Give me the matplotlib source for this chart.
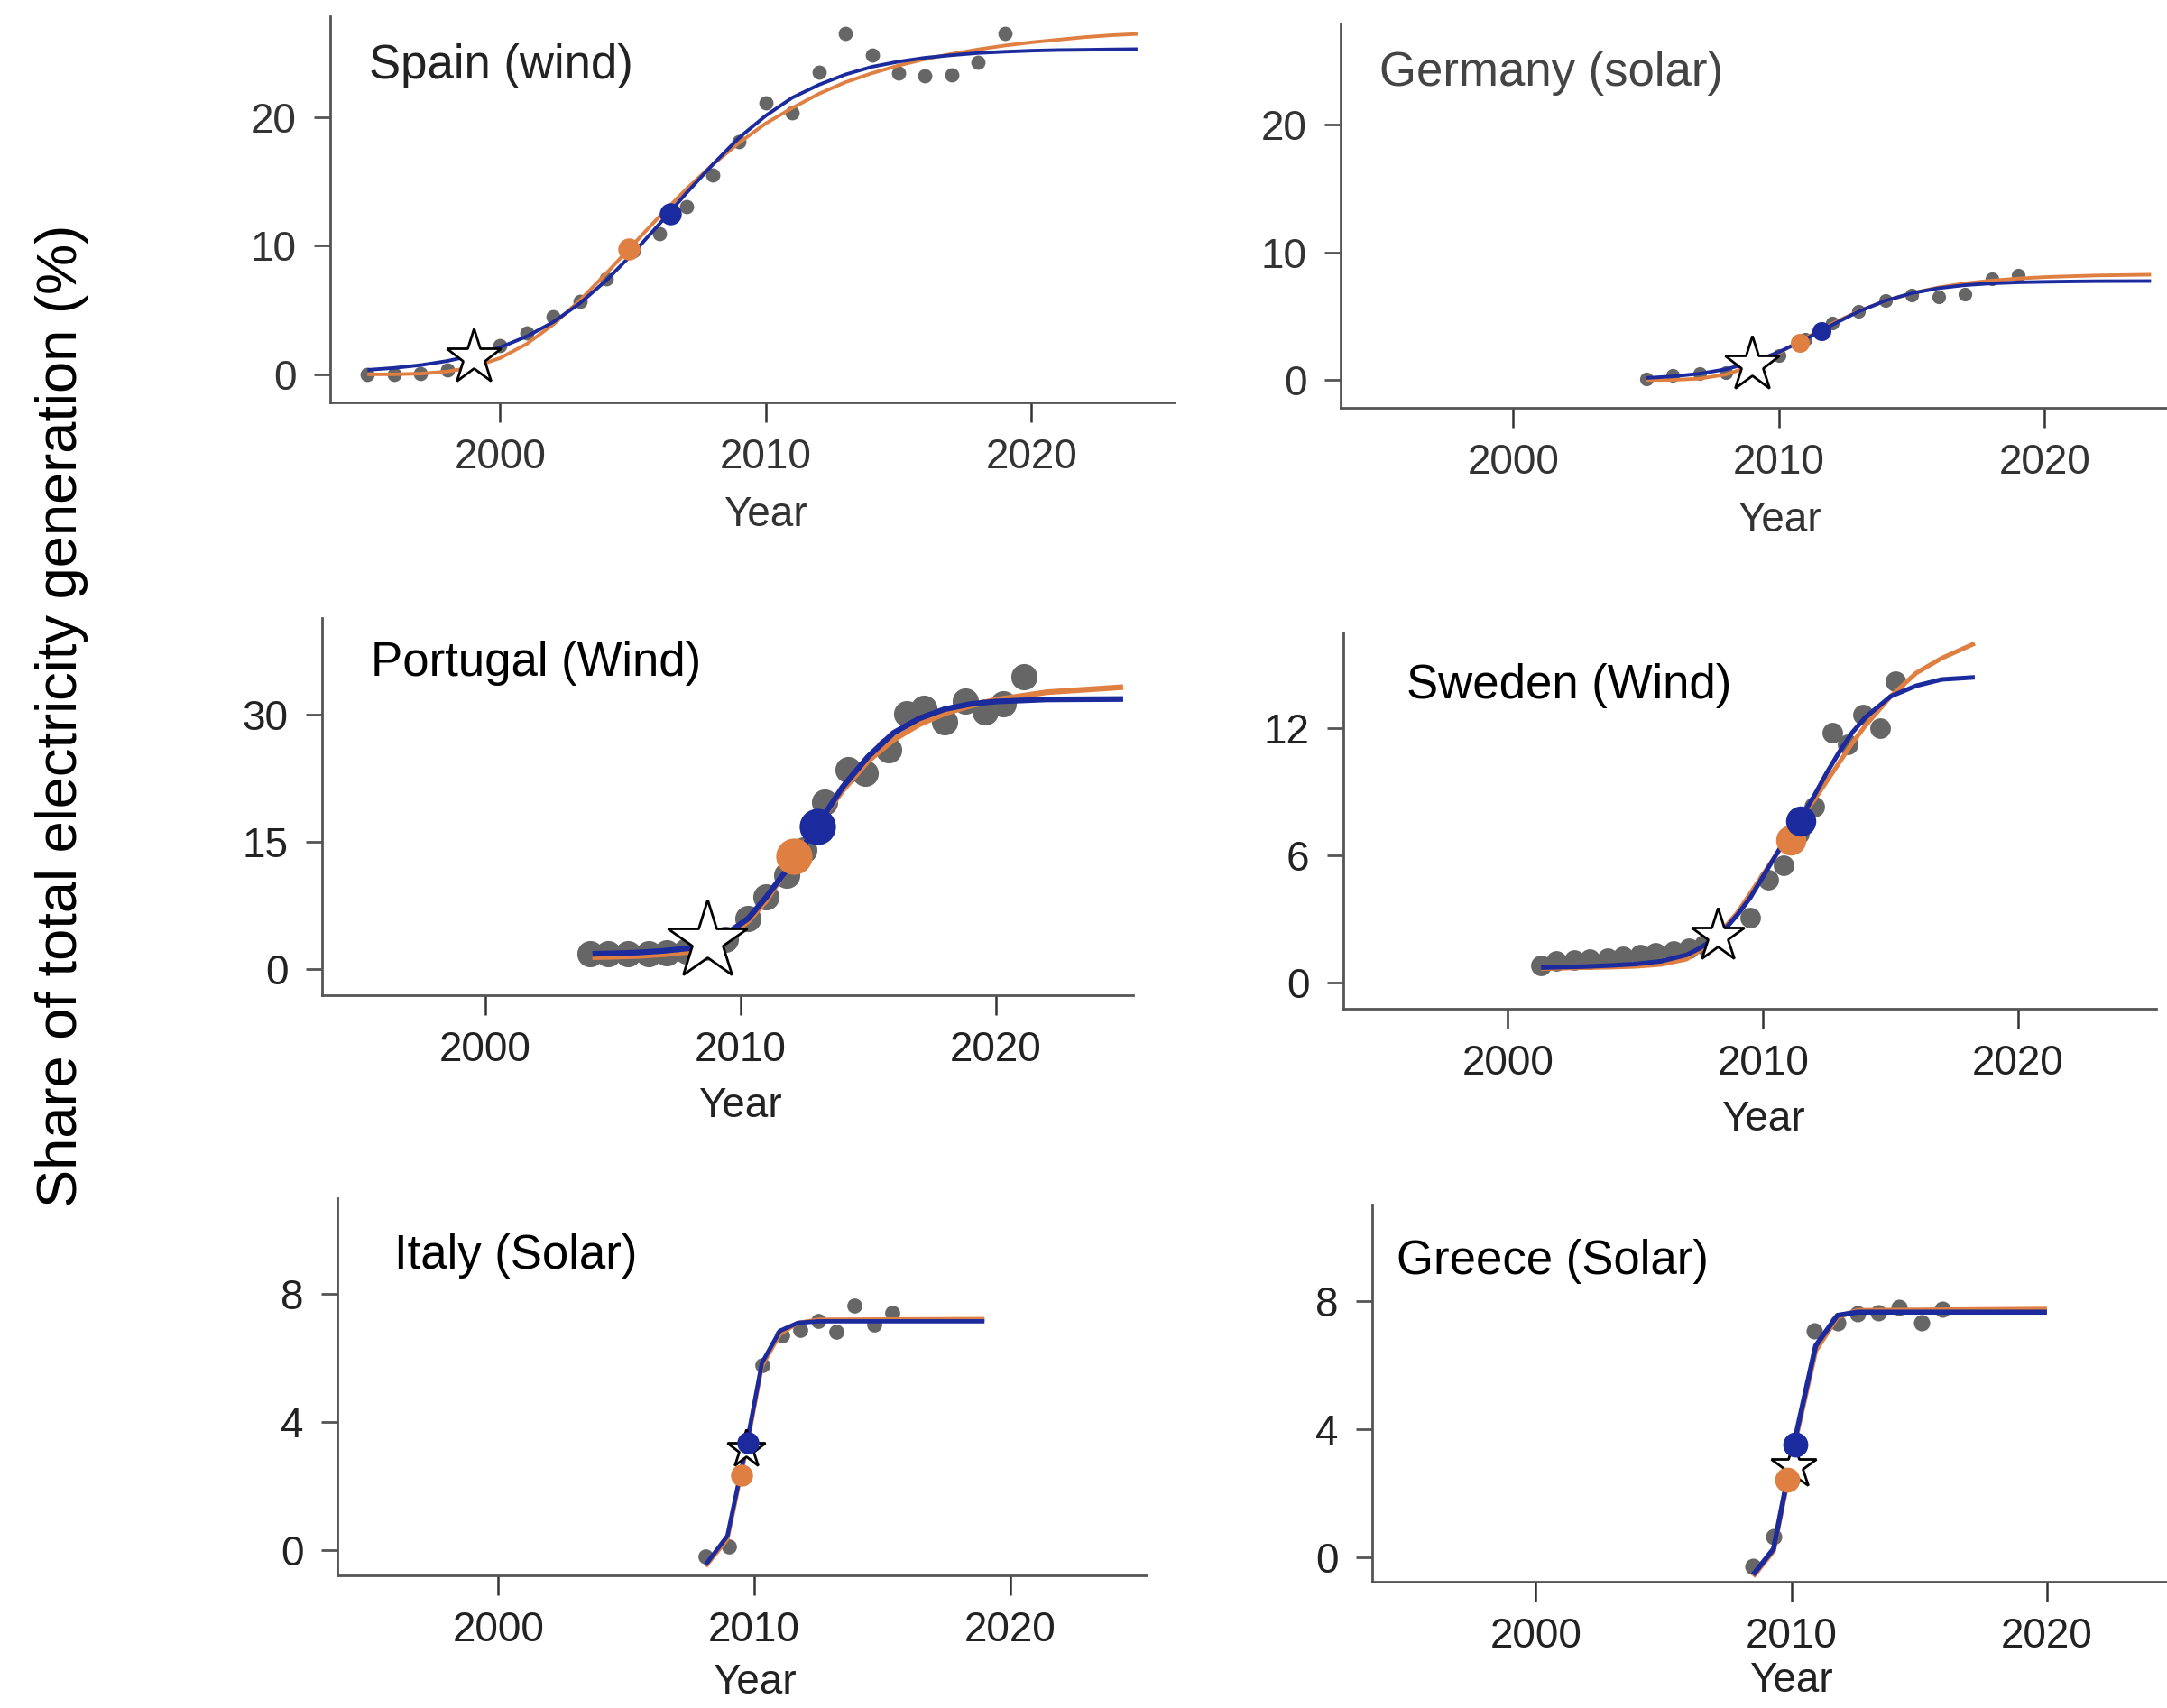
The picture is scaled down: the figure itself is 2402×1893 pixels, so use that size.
import matplotlib
matplotlib.use("Agg")
import matplotlib.pyplot as plt
import matplotlib.transforms as mtransforms

plt.rcParams["font.family"] = ["Liberation Sans", "DejaVu Sans"]

BLUE = "#1b2a9c"
ORANGE = "#e07f42"
GRAY = "#666666"

# ---------------- Spain (wind) ----------------
spain_years = list(range(1995, 2020))
spain_share = [0.0, 0.0, 0.05, 0.35, 1.2, 2.25, 3.25, 4.5, 5.7, 7.4, 9.6, 10.9, 13.0,
               15.5, 18.1, 21.1, 20.3, 23.5, 26.5, 24.8, 23.4, 23.2, 23.3, 24.25, 26.5]
spain_fit_years = list(range(1995, 2025))
spain_blue = [0.35, 0.50, 0.72, 1.04, 1.49, 2.1, 2.95, 4.07, 5.52, 7.31, 9.41, 11.7, 14.06,
              16.3, 18.4, 20.1, 21.5, 22.5, 23.3, 23.9, 24.3, 24.6, 24.8, 24.97, 25.07,
              25.15, 25.2, 25.22, 25.25, 25.27]
spain_orange = [0.0, 0.01, 0.06, 0.22, 0.58, 1.27, 2.37, 3.88, 5.75, 7.86, 10.08, 12.28,
                14.38, 16.3, 18.0, 19.5, 20.7, 21.8, 22.7, 23.4, 24.0, 24.5, 24.9, 25.25,
                25.55, 25.8, 26.0, 26.2, 26.35, 26.45]
spain_blue_dot = (2006.4, 12.5)
spain_orange_dot = (2004.85, 9.75)
spain_star = (1999.0, 1.3)

# ---------------- Germany (solar) ----------------
germany_years = list(range(2005, 2020))
germany_share = [0.1, 0.4, 0.5, 0.6, 1.1, 1.9, 3.2, 4.5, 5.4, 6.2, 6.65, 6.5, 6.7, 7.9, 8.2]
germany_fit_years = list(range(2005, 2025))
germany_blue = [0.165, 0.29, 0.50, 0.85, 1.40, 2.20, 3.21, 4.32, 5.37, 6.21, 6.80, 7.19,
                7.43, 7.57, 7.65, 7.69, 7.72, 7.74, 7.745, 7.75]
germany_orange = [0.0, 0.015, 0.11, 0.44, 1.12, 2.13, 3.29, 4.42, 5.40, 6.19, 6.80, 7.25,
                  7.57, 7.79, 7.95, 8.06, 8.13, 8.19, 8.22, 8.25]
germany_blue_dot = (2011.6, 3.8)
germany_orange_dot = (2010.8, 2.9)
germany_star = (2009.0, 1.2)

# ---------------- Portugal (Wind) ----------------
portugal_years = [2004.1, 2004.8, 2005.6, 2006.4, 2007.1, 2007.9, 2008.6, 2009.4, 2010.3,
                  2011.0, 2011.8, 2012.5, 2013.3, 2014.2, 2014.9, 2015.8, 2016.5, 2017.2,
                  2018.0, 2018.8, 2019.6, 2020.3, 2021.1]
portugal_share = [1.8, 1.8, 1.8, 1.8, 1.9, 2.1, 2.5, 3.5, 5.9, 8.5, 11.0, 14.0, 19.6, 23.5,
                  23.0, 25.8, 30.1, 30.7, 29.1, 31.6, 30.3, 31.2, 34.4]
portugal_fit_years = [2004.2, 2005, 2006, 2007, 2008, 2008.7, 2009.5, 2010.3, 2011, 2012,
                      2013, 2014, 2015, 2016, 2017, 2018, 2019, 2020, 2022, 2025]
portugal_blue = [1.75, 1.8, 1.9, 2.1, 2.4, 3.0, 4.2, 5.9, 8.4, 12.4, 16.8, 21.4, 25.0, 27.8,
                 29.5, 30.6, 31.2, 31.5, 31.75, 31.8]
portugal_orange = [1.35, 1.4, 1.5, 1.7, 2.0, 2.6, 3.7, 5.6, 8.0, 12.6, 16.9, 21.0, 24.5,
                   27.0, 28.8, 30.1, 31.0, 31.7, 32.6, 33.2]
portugal_blue_dot = (2013.0, 16.8)
portugal_orange_dot = (2012.1, 13.3)
portugal_star = (2008.7, 3.2)

# ---------------- Sweden (Wind) ----------------
sweden_years = [2001.3, 2001.9, 2002.6, 2003.2, 2003.9, 2004.5, 2005.2, 2005.8, 2006.5,
                2007.1, 2007.7, 2009.5, 2010.2, 2010.8, 2011.4, 2012.0, 2012.7, 2013.3,
                2013.9, 2014.6, 2015.2]
sweden_share = [0.82, 1.0, 1.05, 1.1, 1.15, 1.25, 1.3, 1.4, 1.5, 1.6, 1.8, 3.05, 4.85, 5.55,
                7.0, 8.3, 11.8, 11.25, 12.65, 12.0, 14.2]
sweden_fit_years = [2001.3, 2002, 2003, 2004, 2005, 2006, 2007, 2007.5, 2008, 2008.5, 2009,
                    2009.5, 2010, 2010.5, 2011, 2011.5, 2012, 2012.5, 2013, 2013.5, 2014,
                    2015, 2016, 2017, 2018.3]
sweden_blue = [0.7, 0.72, 0.75, 0.8, 0.87, 1.0, 1.3, 1.6, 2.0, 2.5, 3.2, 4.0, 5.0, 6.0, 7.0,
               7.8, 8.8, 9.9, 10.9, 11.8, 12.5, 13.5, 14.0, 14.3, 14.4]
sweden_orange = [0.65, 0.67, 0.7, 0.72, 0.76, 0.85, 1.1, 1.5, 2.0, 2.6, 3.3, 4.2, 5.1, 6.0,
                 6.9, 7.8, 8.6, 9.5, 10.4, 11.3, 12.1, 13.5, 14.6, 15.3, 16.0]
sweden_blue_dot = (2011.46, 7.6)
sweden_orange_dot = (2011.08, 6.74)
sweden_star = (2008.24, 2.22)

# ---------------- Italy (Solar) ----------------
italy_years = [2008.1, 2009.0, 2010.3, 2011.1, 2011.8, 2012.5, 2013.2, 2013.9, 2014.7, 2015.4]
italy_share = [-0.2, 0.13, 5.78, 6.7, 6.88, 7.15, 6.83, 7.63, 7.04, 7.41]
italy_fit_years = [2008.1, 2008.95, 2009.7, 2010.3, 2011.0, 2011.7, 2012.5, 2019.0]
italy_blue = [-0.45, 0.45, 3.3, 5.85, 6.85, 7.1, 7.15, 7.15]
italy_orange = [-0.5, 0.35, 3.2, 5.75, 6.75, 7.1, 7.2, 7.22]
italy_blue_dot = (2009.75, 3.36)
italy_orange_dot = (2009.5, 2.35)
italy_star = (2009.68, 3.15)

# ---------------- Greece (Solar) ----------------
greece_years = [2008.5, 2009.3, 2010.9, 2011.8, 2012.6, 2013.4, 2014.2, 2015.1, 2015.9]
greece_share = [-0.28, 0.65, 7.07, 7.33, 7.59, 7.62, 7.8, 7.33, 7.73]
greece_fit_years = [2008.5, 2009.3, 2010.2, 2010.95, 2011.8, 2012.6, 2020.0]
greece_blue = [-0.55, 0.26, 3.9, 6.6, 7.55, 7.65, 7.65]
greece_orange = [-0.6, 0.2, 3.8, 6.45, 7.5, 7.7, 7.74]
greece_blue_dot = (2010.17, 3.51)
greece_orange_dot = (2009.85, 2.43)
greece_star = (2010.1, 2.83)

X_TICKS = [2000, 2010, 2020]


def draw_panel(fig, rect, xlim, ylim, yticks, title, title_xy, years, share, fit_years,
               blue, orange, blue_dot, orange_dot, star, pt_size, dot_size, star_size,
               lw, text_color="#222222", title_color="black", year_y=-0.294):
    ax = fig.add_axes(rect)
    ax.set_xlim(*xlim)
    ax.set_ylim(*ylim)

    ax.scatter(years, share, s=pt_size, color=GRAY, zorder=2, lw=0, clip_on=False)
    ax.plot(fit_years, orange, color=ORANGE, lw=lw, zorder=3, solid_capstyle="butt")
    ax.plot(fit_years, blue, color=BLUE, lw=lw, zorder=4, solid_capstyle="butt")
    ax.plot([star[0]], [star[1]], marker="*", ms=star_size, mfc="white", mec="black",
            mew=2.0, zorder=5, clip_on=False)
    ax.scatter([orange_dot[0]], [orange_dot[1]], s=dot_size, color=ORANGE, zorder=6, lw=0)
    ax.scatter([blue_dot[0]], [blue_dot[1]], s=dot_size, color=BLUE, zorder=7, lw=0)

    for side in ("top", "right"):
        ax.spines[side].set_visible(False)
    for side in ("left", "bottom"):
        ax.spines[side].set_color("#555555")
        ax.spines[side].set_linewidth(2.0)

    ax.set_xticks(X_TICKS)
    ax.set_yticks(yticks)
    ax.tick_params(axis="x", length=16, width=1.8, color="#333333", pad=12,
                   labelsize=33, labelcolor=text_color)
    ax.tick_params(axis="y", length=13, width=2.0, color="#555555", pad=14,
                   labelsize=33, labelcolor=text_color)

    # "Year" sits under the 2010 tick, as in the source figure
    trans = mtransforms.blended_transform_factory(ax.transData, ax.transAxes)
    ax.text(2010, year_y, "Year", transform=trans, ha="center", va="center",
            fontsize=33, color=text_color)
    ax.text(title_xy[0], title_xy[1], title, transform=ax.transAxes, ha="left",
            va="center", fontsize=38, color=title_color)
    return ax


fig = plt.figure(figsize=(24.02, 18.93), dpi=100)

draw_panel(fig, [0.1524, 0.7646, 0.3897, 0.2257], (1993.6, 2025.4), (-2.15, 27.8),
           [0, 10, 20], "Spain (wind)", (0.046, 0.871), spain_years, spain_share,
           spain_fit_years, spain_blue, spain_orange, spain_blue_dot, spain_orange_dot,
           spain_star, 130, 310, 46, 2.8, text_color="#333333", title_color="#222222")

draw_panel(fig, [0.6186, 0.7613, 0.3814, 0.2249], (1993.5, 2024.6), (-2.16, 27.9),
           [0, 10, 20], "Germany (solar)", (0.047, 0.871), germany_years, germany_share,
           germany_fit_years, germany_blue, germany_orange, germany_blue_dot,
           germany_orange_dot, germany_star, 120, 230, 46, 2.8,
           text_color="#333333", title_color="#444444")

draw_panel(fig, [0.1486, 0.4175, 0.3744, 0.2209], (1993.6, 2025.4), (-3.1, 41.4),
           [0, 15, 30], "Portugal (Wind)", (0.060, 0.879), portugal_years,
           portugal_share, portugal_fit_years, portugal_blue, portugal_orange,
           portugal_blue_dot, portugal_orange_dot, portugal_star, 440, 840, 66, 4.5)

draw_panel(fig, [0.6199, 0.4094, 0.3750, 0.2201], (1993.55, 2025.4), (-1.24, 16.5),
           [0, 6, 12], "Sweden (Wind)", (0.078, 0.860), sweden_years, sweden_share,
           sweden_fit_years, sweden_blue, sweden_orange, sweden_blue_dot,
           sweden_orange_dot, sweden_star, 270, 580, 44, 3.6)

draw_panel(fig, [0.1556, 0.0777, 0.3737, 0.2209], (1993.7, 2025.35), (-0.78, 11.0),
           [0, 4, 8], "Italy (Solar)", (0.070, 0.846), italy_years, italy_share,
           italy_fit_years, italy_blue, italy_orange, italy_blue_dot, italy_orange_dot,
           italy_star, 145, 310, 32, 3.4, year_y=-0.285)

draw_panel(fig, [0.6333, 0.0737, 0.3667, 0.2209], (1993.6, 2024.7), (-0.78, 11.0),
           [0, 4, 8], "Greece (Solar)", (0.030, 0.850), greece_years, greece_share,
           greece_fit_years, greece_blue, greece_orange, greece_blue_dot,
           greece_orange_dot, greece_star, 170, 400, 38, 4.0, year_y=-0.262)

fig.text(0.0287, 0.581, "Share of total electricity generation (%)", rotation=90,
         ha="center", va="center", fontsize=45.5, color="black")

fig.savefig("out.png", dpi=100, facecolor="white")
